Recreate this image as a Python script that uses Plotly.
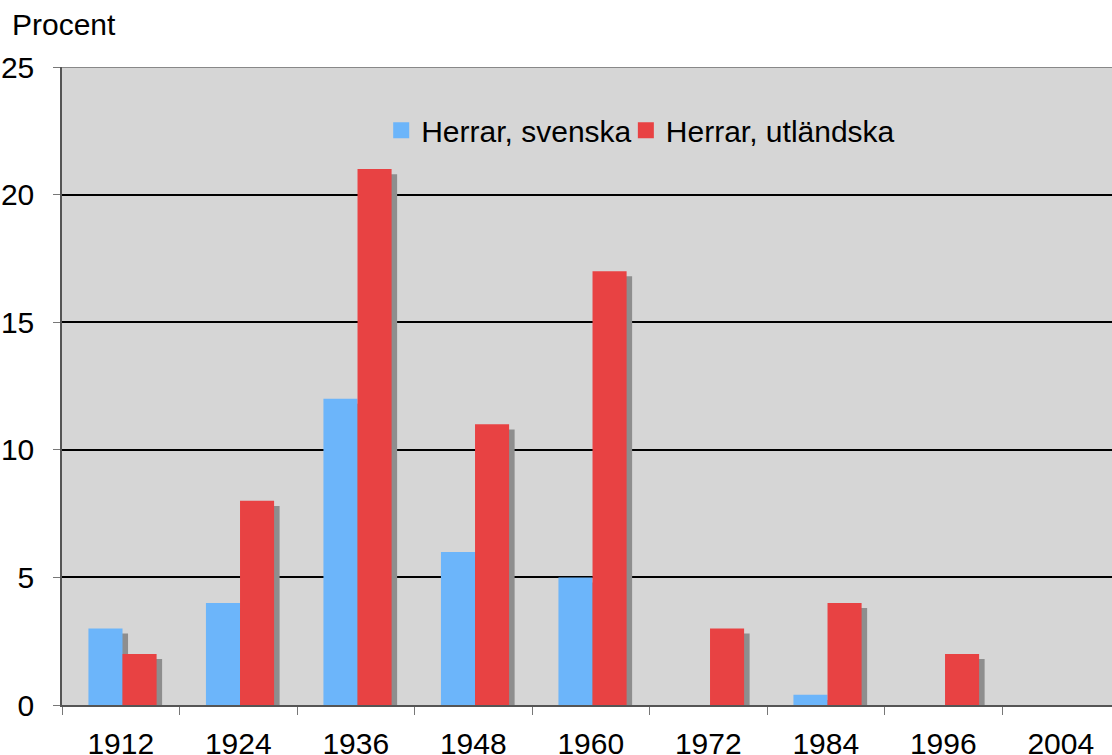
import plotly.graph_objects as go
import numpy as np

years = ["1912", "1924", "1936", "1948", "1960", "1972", "1984", "1996", "2004"]
svenska = [3, 4, 12, 6, 5, 0, 0.4, 0, 0]
utlandska = [2, 8, 21, 11, 17, 3, 4, 2, 0]

BLUE = "#6cb5fa"
RED = "#e84243"
SHADOW = "#8e8e8e"
FONT = "Liberation Sans"

bw = 0.29  # bar width (category units)
sx, sy = 0.047, 0.2  # shadow offset
idx = np.arange(len(years))
xb = idx - bw / 2 + 0.015
xr = idx + bw / 2 + 0.015

fig = go.Figure()

# drop shadows first, so the bars sit on top
for xs, vals in [(xb, svenska), (xr, utlandska)]:
    v = np.array(vals, dtype=float)
    fig.add_trace(go.Bar(
        x=xs + sx, y=np.where(v > 0, v - sy, 0), width=bw,
        marker=dict(color=SHADOW, line_width=0),
        showlegend=False, hoverinfo="skip",
    ))

fig.add_trace(go.Bar(x=xb, y=svenska, width=bw, name="Herrar, svenska",
                     marker=dict(color=BLUE, line_width=0), showlegend=False))
fig.add_trace(go.Bar(x=xr, y=utlandska, width=bw, name="Herrar, utländska",
                     marker=dict(color=RED, line_width=0), showlegend=False))

# legend-only proxies, one legend each so the spacing can be set by hand
for name, col, lg in [("Herrar, svenska", BLUE, "legend"),
                      ("Herrar, utländska", RED, "legend2")]:
    fig.add_trace(go.Scatter(
        x=[None], y=[None], mode="markers", name=name, legend=lg,
        marker=dict(symbol="square", size=20, color=col),
    ))

leg = dict(
    y=0.901, xanchor="left", yanchor="middle",
    bgcolor="rgba(0,0,0,0)", font=dict(size=30), itemwidth=30,
    itemsizing="trace",
)

fig.update_layout(
    width=1112, height=755,
    margin=dict(l=62, r=0, t=67, b=50),
    barmode="overlay",
    plot_bgcolor="#d6d6d6",
    paper_bgcolor="white",
    font=dict(family=FONT, size=30, color="black"),
    legend=dict(x=0.304, **leg),
    legend2=dict(x=0.537, **leg),
    xaxis=dict(
        range=[-0.5, 8.436], automargin=False,
        tickmode="array", tickvals=list(idx), ticktext=years,
        ticks="", showgrid=False, zeroline=False,
        showline=True, linecolor="#555555", linewidth=1.5,
        ticklabelstandoff=11,
        minor=dict(tickmode="array", tickvals=list(idx - 0.5),
                   ticks="outside", ticklen=8, tickcolor="#777777",
                   showgrid=False),
    ),
    yaxis=dict(
        range=[0, 25], tickvals=[0, 5, 10, 15, 20, 25], automargin=False,
        ticks="outside", ticklen=7, tickcolor="#777777",
        showgrid=True, gridcolor="black", gridwidth=1.5,
        zeroline=False,
        showline=True, linecolor="#555555", linewidth=1.5,
        ticklabelstandoff=13,
    ),
    annotations=[dict(
        text="Procent", xref="paper", yref="paper", x=-0.0495, y=1.066,
        xanchor="left", yanchor="middle", showarrow=False,
        font=dict(size=30),
    )],
)
# thin frame line along the top edge
fig.add_hline(y=25, line=dict(color="#888888", width=2))

# drop the default 8px body margin so the figure sits at the page corner
fig.write_html("out.html", config={"displayModeBar": False},
               post_script="document.body.style.margin='0';")
